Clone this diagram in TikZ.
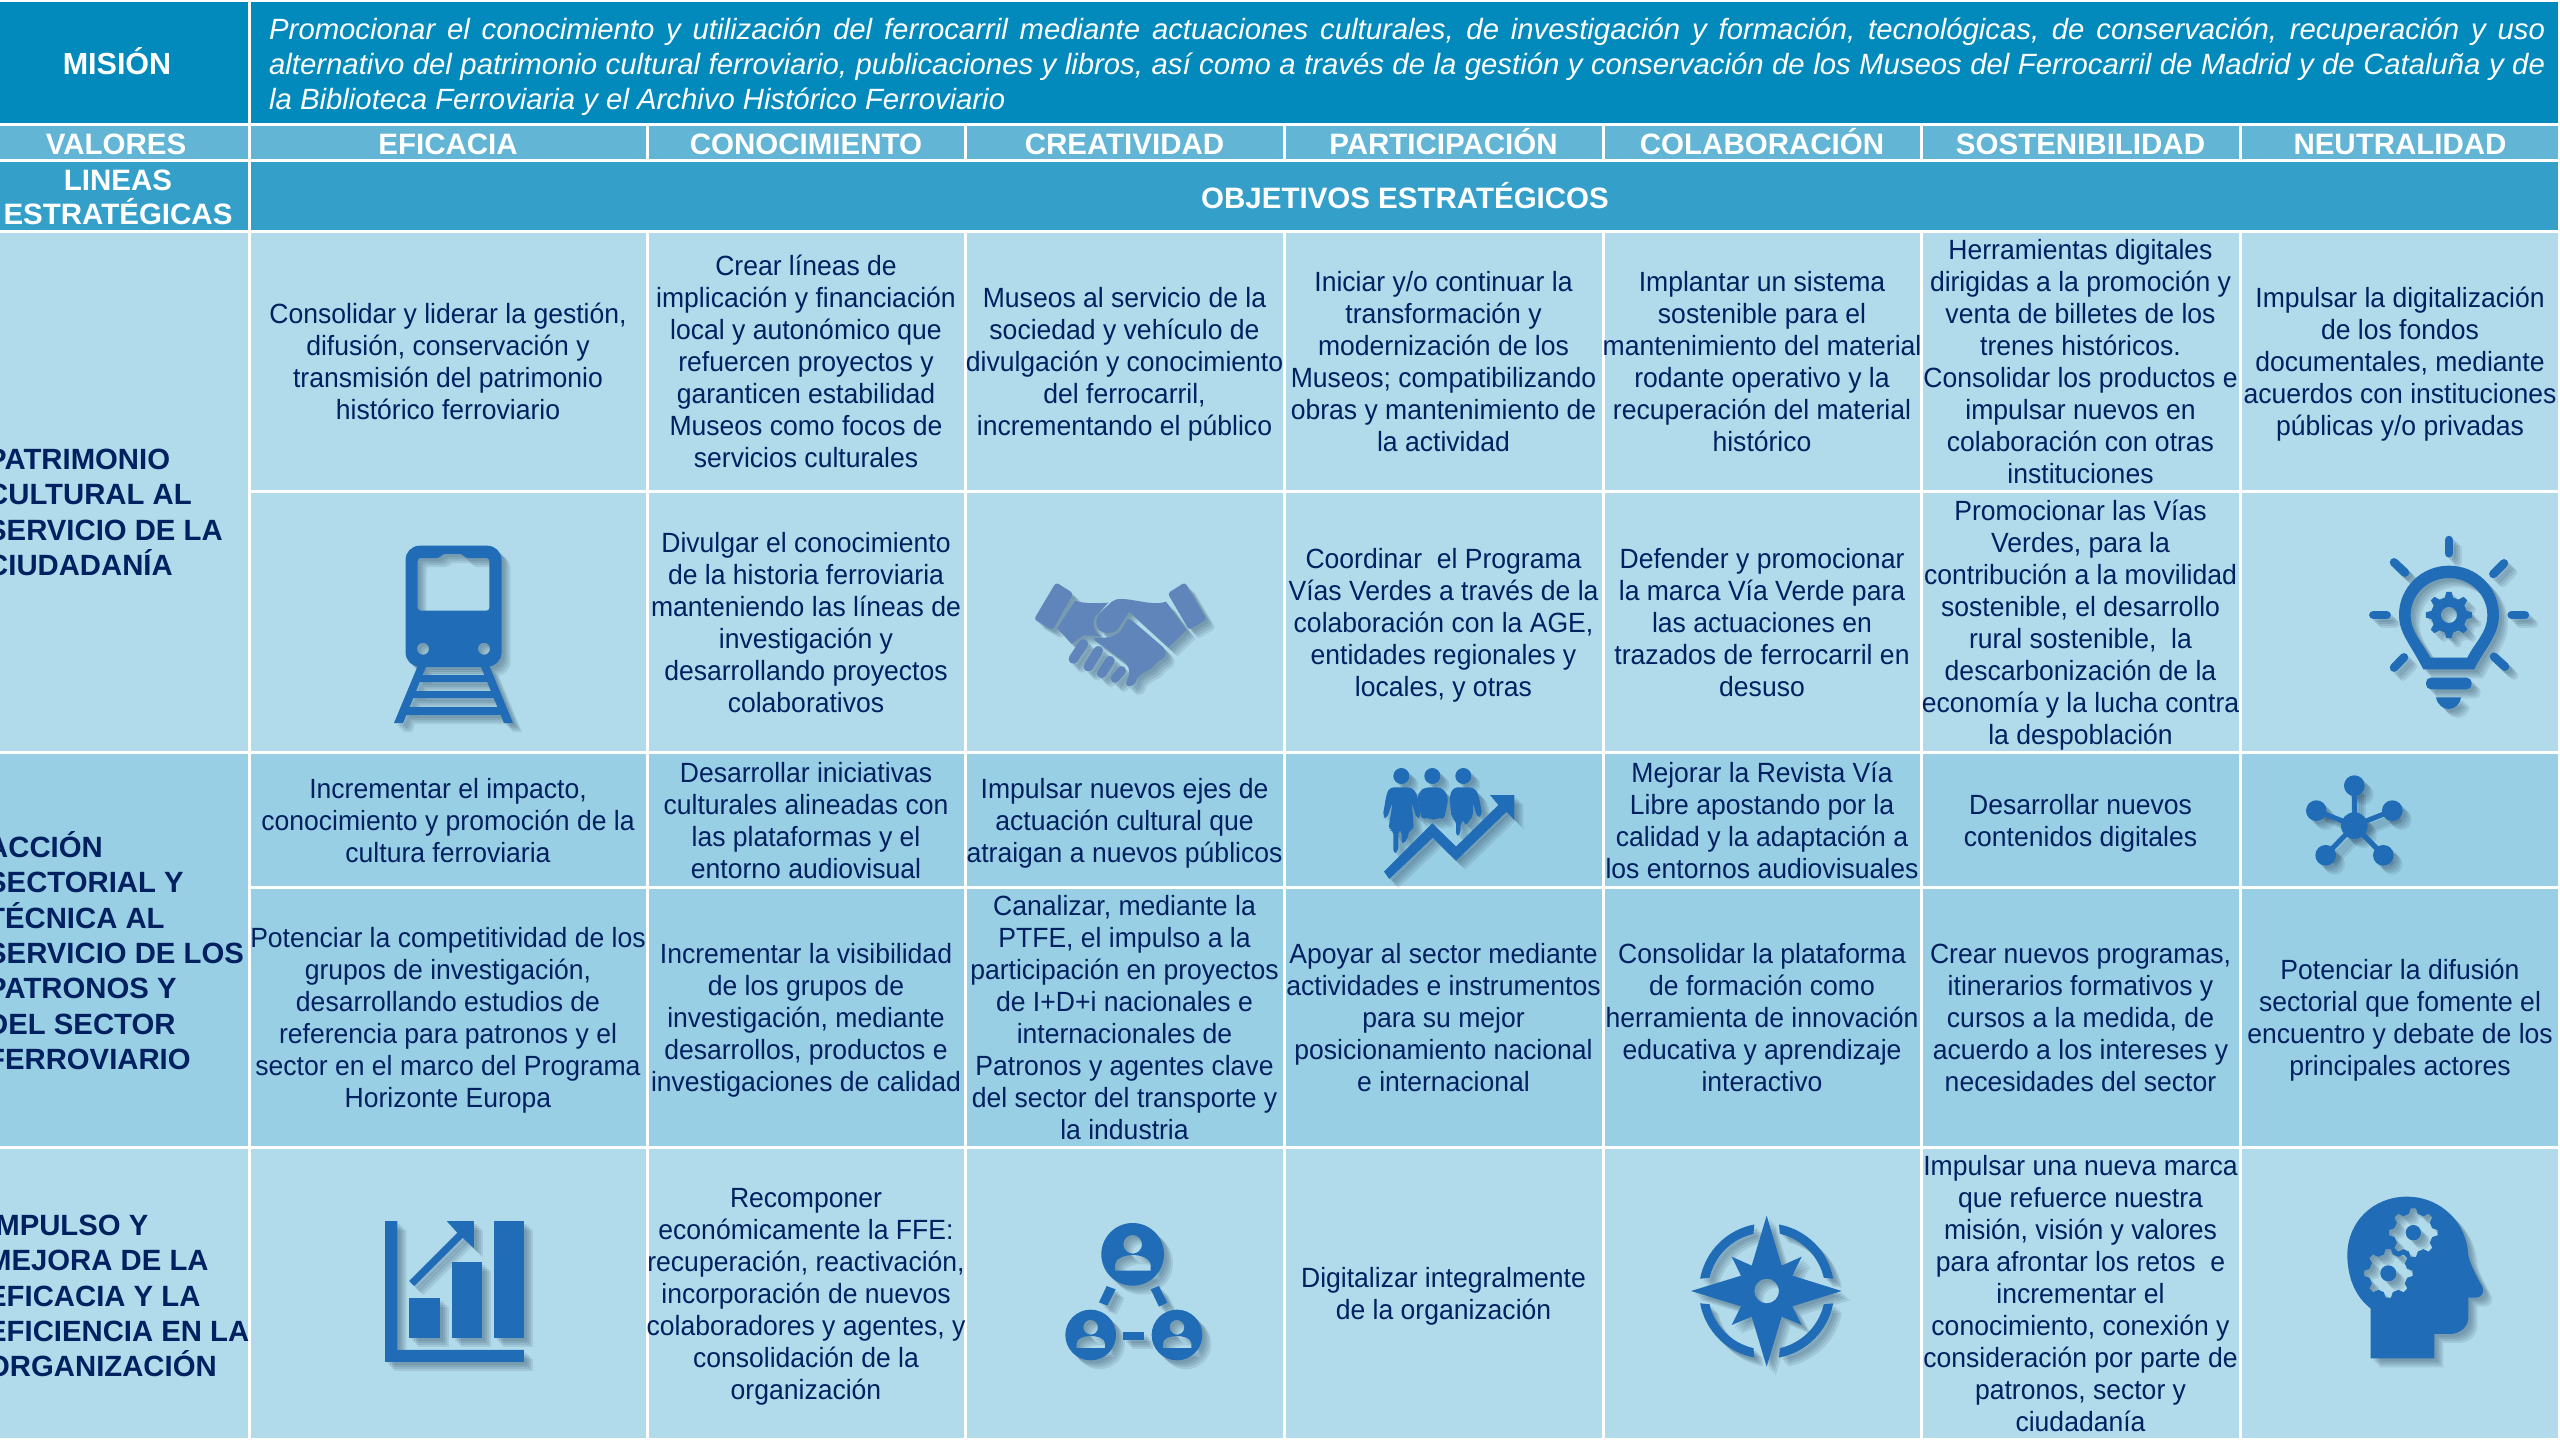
\documentclass[tikz,border=0pt]{standalone}
\usepackage{fontspec}
\setmainfont{Liberation Sans}
\newfontfamily\cellfont[FakeStretch=0.955]{Liberation Sans}
\definecolor{misionc}{HTML}{028ABD}
\definecolor{valorc}{HTML}{62B5D5}
\definecolor{lineac}{HTML}{34A0CA}
\definecolor{lightc}{HTML}{B1DBEA}
\definecolor{midc}{HTML}{99CFE4}
\definecolor{textc}{HTML}{002060}
\definecolor{iconcol}{HTML}{206CB7}
\definecolor{handc}{HTML}{5F85BA}
\definecolor{shadowc}{HTML}{1A3550}
\tikzset{
  cell/.style={inner sep=0pt,yshift=-5.5pt,align=center,text=textc,font=\cellfont\fontsize{27.8}{32}\selectfont,execute at begin node=\strut,execute at end node=\strut},
  head/.style={inner sep=0pt,align=center,text=white,font=\fontsize{29.5}{34}\selectfont\bfseries},
  valor/.style={head,anchor=base},
  linea/.style={inner sep=0pt,anchor=west,align=left,text=textc,font=\fontsize{29.3}{35.4}\selectfont\bfseries},
  grid/.style={draw=white,line width=3pt},
  ic/.style={fill=iconcol,draw=none},
  ir/.style={draw=iconcol,line cap=round}
}
\newcommand\shicon[4]{%
  \foreach \dd in {3,5,7,9}{%
    \begin{scope}[shift={({#1+\dd},{#2+\dd})},scale=#3,opacity=.11]
      \colorlet{iconcol}{shadowc}#4
    \end{scope}}%
  \begin{scope}[shift={(#1,#2)},scale=#3]#4\end{scope}}
\newcommand\gearP[5]{({#1+#3*cos(.86*360/#5)},{#2+#3*sin(.86*360/#5)})
  \foreach \gi in {1,...,#5}{
    -- ({#1+#3*cos((\gi+.14)*360/#5)},{#2+#3*sin((\gi+.14)*360/#5)})
    -- ({#1+#4*cos((\gi+.3)*360/#5)},{#2+#4*sin((\gi+.3)*360/#5)})
    -- ({#1+#4*cos((\gi+.7)*360/#5)},{#2+#4*sin((\gi+.7)*360/#5)})
    -- ({#1+#3*cos((\gi+.86)*360/#5)},{#2+#3*sin((\gi+.86)*360/#5)})
  } -- cycle}
\begin{document}
\begin{tikzpicture}[x=1pt,y=-1pt]
\useasboundingbox (0,0) rectangle (2560,1440);
\clip (0,0) rectangle (2560,1440);
% ---------- bands
\fill[misionc] (0,0) rectangle (2560,124);
\fill[valorc] (0,124) rectangle (2560,160);
\fill[lineac] (0,160) rectangle (2560,231);
\fill[lightc] (0,231) rectangle (2560,752);
\fill[midc] (0,752) rectangle (2560,1147);
\fill[lightc] (0,1147) rectangle (2560,1440);
% ---------- grid
\draw[grid] (0,0.5) -- (2560,0.5);
\draw[grid] (0,124) -- (2560,124);
\draw[grid] (0,160) -- (2560,160);
\draw[grid] (0,231) -- (2560,231);
\draw[grid] (249,491) -- (2560,491);
\draw[grid] (0,752) -- (2560,752);
\draw[grid] (249,887) -- (2560,887);
\draw[grid] (0,1147) -- (2560,1147);
\draw[grid] (0,1439.5) -- (2560,1439.5);
\draw[grid] (249,0) -- (249,1440);
\foreach \cx in {647,965,1284,1603,1921,2240}{
  \draw[grid] (\cx,124) -- (\cx,160);
  \draw[grid] (\cx,231) -- (\cx,1440);
}
\draw[grid] (2559.5,0) -- (2559.5,1440);
% ---------- header
\node[head,font=\fontsize{30.5}{36}\selectfont\bfseries] (mision) at (117,61) {MISIÓN};
\node[inner sep=0pt,anchor=west,text=white] (mtext) at (269,66.5) {\parbox{2276pt}{\fontsize{29.3}{35}\selectfont\itshape\emergencystretch=200pt\hbadness=10000
Promocionar el conocimiento y utilización del ferrocarril mediante actuaciones culturales, de investigación y formación, tecnológicas, de conservación, recuperación y uso\linebreak
alternativo del patrimonio cultural ferroviario, publicaciones y libros, así como a través de la gestión y conservación de los Museos del Ferrocarril de Madrid y de Cataluña y de\linebreak
la Biblioteca Ferroviaria y el Archivo Histórico Ferroviario}};
\node[valor] (valores) at (116,154) {VALORES};
\node[valor] (v1) at (448,154) {EFICACIA};
\node[valor] (v2) at (806,154) {CONOCIMIENTO};
\node[valor] (v3) at (1124.5,154) {CREATIVIDAD};
\node[valor] (v4) at (1443.5,154) {PARTICIPACIÓN};
\node[valor] (v5) at (1762,154) {COLABORACIÓN};
\node[valor] (v6) at (2080.5,154) {SOSTENIBILIDAD};
\node[valor] (v7) at (2400,154) {NEUTRALIDAD};
\node[head] (lineas) at (118,197) {LINEAS\\ESTRATÉGICAS};
\node[head] (objetivos) at (1405,196) {OBJETIVOS ESTRATÉGICOS};
% ---------- strategic lines
\node[linea] (l1) at (-13,512.5) {PATRIMONIO\\CULTURAL AL\\SERVICIO DE LA\\CIUDADANÍA};
\node[linea] (l2) at (-13,950.7) {ACCIÓN\\SECTORIAL Y\\TÉCNICA AL\\SERVICIO DE LOS\\PATRONOS Y\\DEL SECTOR\\FERROVIARIO};
\node[linea] (l3) at (-13,1296) {IMPULSO Y\\MEJORA DE LA\\EFICACIA Y LA\\EFICIENCIA EN LA\\ORGANIZACIÓN};
% ---------- row 1
\node[cell] (a1) at (448,361) {Consolidar y liderar la gestión,\\difusión, conservación y\\transmisión del patrimonio\\histórico ferroviario};
\node[cell] (a2) at (806,361) {Crear líneas de\\implicación y financiación\\local y autonómico que\\refuercen proyectos y\\garanticen estabilidad\\Museos como focos de\\servicios culturales};
\node[cell] (a3) at (1124.5,361) {Museos al servicio de la\\sociedad y vehículo de\\divulgación y conocimiento\\del ferrocarril,\\incrementando el público};
\node[cell] (a4) at (1443.5,361) {Iniciar y/o continuar la\\transformación y\\modernización de los\\Museos; compatibilizando\\obras y mantenimiento de\\la actividad};
\node[cell] (a5) at (1762,361) {Implantar un sistema\\sostenible para el\\mantenimiento del material\\rodante operativo y la\\recuperación del material\\histórico};
\node[cell] (a6) at (2080.5,361) {Herramientas digitales\\dirigidas a la promoción y\\venta de billetes de los\\trenes históricos.\\Consolidar los productos e\\impulsar nuevos en\\colaboración con otras\\instituciones};
\node[cell] (a7) at (2400,361) {Impulsar la digitalización\\de los fondos\\documentales, mediante\\acuerdos con instituciones\\públicas y/o privadas};
% ---------- row 2
\node[cell] (b2) at (806,621.5) {Divulgar el conocimiento\\de la historia ferroviaria\\manteniendo las líneas de\\investigación y\\desarrollando proyectos\\colaborativos};
\node[cell] (b4) at (1443.5,621.5) {Coordinar\ \ el Programa\\Vías Verdes a través de la\\colaboración con la AGE,\\entidades regionales y\\locales, y otras};
\node[cell] (b5) at (1762,621.5) {Defender y promocionar\\la marca Vía Verde para\\las actuaciones en\\trazados de ferrocarril en\\desuso};
\node[cell] (b6) at (2080.5,621.5) {Promocionar las Vías\\Verdes, para la\\contribución a la movilidad\\sostenible, el desarrollo\\rural sostenible,\ \ la\\descarbonización de la\\economía y la lucha contra\\la despoblación};
% ---------- row 3
\node[cell] (c1) at (448,819.5) {Incrementar el impacto,\\conocimiento y promoción de la\\cultura ferroviaria};
\node[cell] (c2) at (806,819.5) {Desarrollar iniciativas\\culturales alineadas con\\las plataformas y el\\entorno audiovisual};
\node[cell] (c3) at (1124.5,819.5) {Impulsar nuevos ejes de\\actuación cultural que\\atraigan a nuevos públicos};
\node[cell] (c5) at (1762,819.5) {Mejorar la Revista Vía\\Libre apostando por la\\calidad y la adaptación a\\los entornos audiovisuales};
\node[cell] (c6) at (2080.5,819.5) {Desarrollar nuevos\\contenidos digitales};
% ---------- row 4
\node[cell] (d1) at (448,1017) {Potenciar la competitividad de los\\grupos de investigación,\\desarrollando estudios de\\referencia para patronos y el\\sector en el marco del Programa\\Horizonte Europa};
\node[cell] (d2) at (806,1017) {Incrementar la visibilidad\\de los grupos de\\investigación, mediante\\desarrollos, productos e\\investigaciones de calidad};
\node[cell] (d3) at (1124.5,1017) {Canalizar, mediante la\\PTFE, el impulso a la\\participación en proyectos\\de I+D+i nacionales e\\internacionales de\\Patronos y agentes clave\\del sector del transporte y\\la industria};
\node[cell] (d4) at (1443.5,1017) {Apoyar al sector mediante\\actividades e instrumentos\\para su mejor\\posicionamiento nacional\\e internacional};
\node[cell] (d5) at (1762,1017) {Consolidar la plataforma\\de formación como\\herramienta de innovación\\educativa y aprendizaje\\interactivo};
\node[cell] (d6) at (2080.5,1017) {Crear nuevos programas,\\itinerarios formativos y\\cursos a la medida, de\\acuerdo a los intereses y\\necesidades del sector};
\node[cell] (d7) at (2400,1017) {Potenciar la difusión\\sectorial que fomente el\\encuentro y debate de los\\principales actores};
% ---------- row 5
\node[cell] (e2) at (806,1293) {Recomponer\\económicamente la FFE:\\recuperación, reactivación,\\incorporación de nuevos\\colaboradores y agentes, y\\consolidación de la\\organización};
\node[cell] (e4) at (1443.5,1293) {Digitalizar integralmente\\de la organización};
\node[cell] (e6) at (2080.5,1293) {Impulsar una nueva marca\\que refuerce nuestra\\misión, visión y valores\\para afrontar los retos\ \ e\\incrementar el\\conocimiento, conexión y\\consideración por parte de\\patronos, sector y\\ciudadanía};
% ---------- train
\shicon{0}{0}{1}{
  \fill[ic,even odd rule,rounded corners=14] (405.6,545.7) rectangle (501.5,666.7)
    [rounded corners=3] (417.7,558) -- (440,558) -- (442,554) -- (463,554) -- (465,558) -- (489.4,558) -- (489.4,610.7) -- (417.7,610.7) -- cycle
    [sharp corners] (423,648.7) circle[radius=6] (484,648.7) circle[radius=6];
  \fill[ic,even odd rule] (417.7,666) -- (489.4,666) -- (513,723) -- (504,723) -- (500.7,715) -- (406.3,715) -- (403,723) -- (394,723) -- cycle
    (426,667) -- (481,667) -- (484.3,675) -- (422.7,675) -- cycle
    (419.8,682) -- (487.2,682) -- (490.9,691) -- (416.1,691) -- cycle
    (413.3,698) -- (493.7,698) -- (497.4,707) -- (409.6,707) -- cycle;
}
% ---------- handshake
\begin{scope}
\colorlet{iconcol}{handc}
\shicon{1020}{560}{.3333}{
  \fill[ic,rounded corners=3pt] (108,67) -- (160,100) -- (98,210) -- (42,178) -- cycle;
  \fill[ic,rounded corners=3pt] (495,67) -- (443,100) -- (507,210) -- (560,178) -- cycle;
  \fill[ic] (165,122) .. controls (195,132) and (235,130) .. (265,128) -- (225,170) .. controls (215,190) and (222,222) .. (245,228) -- (190,226) -- (155,252) -- (112,205) -- cycle;
  \fill[ic] (290,118) .. controls (335,112) and (395,140) .. (438,125) -- (500,210) -- (445,262) -- (328,155) -- (295,205) .. controls (280,225) and (245,222) .. (233,205) .. controls (225,190) and (228,170) .. (240,160) -- (275,125) -- cycle;
  \fill[ic,rounded corners=4pt] (325,172) -- (437,268) -- (437,292) -- (410,305) -- (398,325) -- (375,335) -- (350,352) -- (347,375) -- (315,380) -- (330,335) -- (320,310) -- (285,285) -- (255,262) -- (215,235) -- (270,232) -- (300,218) -- cycle;
  \draw[ir,line width=9.5pt] (190,252) -- (160,297);
  \draw[ir,line width=9.5pt] (235,272) -- (205,320);
  \draw[ir,line width=9.5pt] (270,302) -- (245,340);
  \draw[ir,line width=9pt] (305,332) -- (285,355);
}
\end{scope}
% ---------- people and rising arrow
\shicon{1370}{755}{.3333}{
  \fill[ic] (94,63) circle[radius=24] (187,63) circle[radius=24] (280,63) circle[radius=24];
  \fill[ic,rounded corners=4pt] (60,97) -- (125,97) -- (140,115) -- (153,185) -- (140,192) -- (125,140) -- (132,225) -- (115,225) -- (115,250) -- (95,270) -- (95,225) -- (85,225) -- (85,290) -- (70,297) -- (70,225) -- (55,225) -- (68,140) -- (50,192) -- (38,185) -- (50,115) -- cycle;
  \fill[ic,rounded corners=4pt] (165,97) -- (212,97) -- (228,112) -- (235,130) -- (222,195) -- (210,185) -- (190,198) -- (170,185) -- (155,195) -- (142,125) -- (150,108) -- cycle;
  \fill[ic,rounded corners=4pt] (250,97) -- (310,97) -- (325,115) -- (337,180) -- (323,190) -- (308,140) -- (310,180) -- (300,195) -- (285,215) -- (285,195) -- (272,198) -- (272,237) -- (258,245) -- (258,195) -- (245,190) -- (238,125) -- cycle;
  \fill[ic] (42,350) -- (187,205) -- (258,275) -- (385,150) -- (360,120) -- (433,120) -- (433,195) -- (410,170) -- (258,317) -- (188,248) -- (58,372) -- cycle;
}
% ---------- bulb
\shicon{2250}{500}{.3333}{
  \fill[ic,even odd rule] (597,197) .. controls (515,197) and (447,262) .. (447,345) .. controls (447,400) and (480,430) .. (520,508) -- (673,508) .. controls (700,450) and (747,410) .. (747,345) .. controls (747,262) and (680,197) .. (597,197) -- cycle
    (597,234) .. controls (533,234) and (482,285) .. (482,345) .. controls (482,395) and (515,425) .. (541,473) -- (652,473) .. controls (672,430) and (712,400) .. (712,345) .. controls (712,285) and (661,234) .. (597,234) -- cycle;
  \fill[ic,even odd rule] \gearP{597}{345}{70}{54}{8} (597,345) circle[radius=24];
  \draw[ir,line width=8.5pt] (597,120) -- (597,160);
  \draw[ir,line width=8.5pt] (370,345) -- (410,345);
  \draw[ir,line width=8.5pt] (785,345) -- (825,345);
  \draw[ir,line width=8.5pt] (432,187) -- (465,218);
  \draw[ir,line width=8.5pt] (762,190) -- (730,222);
  \draw[ir,line width=8.5pt] (432,503) -- (462,472);
  \draw[ir,line width=8.5pt] (765,500) -- (732,470);
  \fill[ic,rounded corners=5pt] (528,533) rectangle (665,568);
  \fill[ic] (558,592) -- (633,592) .. controls (630,615) and (612,627) .. (596,627) .. controls (580,627) and (562,615) .. (558,592) -- cycle;
}
% ---------- network
\shicon{2250}{500}{.3333}{
  \draw[iconcol,line width=5pt] (313,857) -- (313,977) (199,932) -- (313,977) (427,932) -- (313,977) (227,1066) -- (313,977) (400,1066) -- (313,977);
  \fill[ic] (313,977) circle[radius=40] (313,857) circle[radius=31] (199,932) circle[radius=31] (427,932) circle[radius=31] (227,1066) circle[radius=31] (400,1066) circle[radius=31];
}
% ---------- bar chart
\shicon{370}{1200}{.3333}{
  \fill[ic] (45,63) -- (82,63) -- (82,450) -- (462,450) -- (462,486) -- (45,486) -- cycle;
  \fill[ic] (118,293) rectangle (210,413);
  \fill[ic] (245,185) rectangle (335,413);
  \fill[ic] (372,63) rectangle (462,413);
  \fill[ic] (117,243) -- (262,98) -- (230,63) -- (312,63) -- (312,145) -- (278,113) -- (133,258) -- cycle;
}
% ---------- group of three persons
\shicon{1050}{1210}{.3333}{
  \fill[ic,even odd rule] (248,133) circle[radius=94] (248,103) circle[radius=28]
    (195,182) -- (195,165) .. controls (195,145) and (225,135) .. (248,135) .. controls (271,135) and (302,145) .. (302,165) -- (302,182) -- cycle;
  \fill[ic,even odd rule] (122,375) circle[radius=76] (122,352) circle[radius=22]
    (80,414) -- (80,400) .. controls (80,385) and (102,378) .. (122,378) .. controls (142,378) and (165,385) .. (165,400) -- (165,414) -- cycle;
  \fill[ic,even odd rule] (381,375) circle[radius=76] (381,352) circle[radius=22]
    (339,414) -- (339,400) .. controls (339,385) and (361,378) .. (381,378) .. controls (401,378) and (424,385) .. (424,400) -- (424,414) -- cycle;
  \fill[ic] (170,228) -- (197,238) -- (172,287) -- (147,277) -- cycle;
  \fill[ic] (302,238) -- (327,228) -- (352,278) -- (327,290) -- cycle;
  \fill[ic] (220,365) rectangle (282,390);
}
% ---------- compass
\shicon{1680}{1205}{.3333}{
  \foreach \rr in {0,90,180,270}{
    \begin{scope}[shift={(260,258)},rotate=\rr]
      \fill[ic] (10.5:203) arc[start angle=10.5,end angle=79.5,radius=203] -- (77:176) arc[start angle=77,end angle=13,radius=176] -- cycle;
    \end{scope}}
  \fill[ic,even odd rule] (260,32) -- (305,182) -- (365,155) -- (337,212) -- (485,258) -- (337,304) -- (365,360) -- (305,335) -- (260,485) -- (215,335) -- (155,360) -- (183,304) -- (33,258) -- (183,212) -- (155,155) -- (215,182) -- cycle (260,258) circle[radius=37];
}
% ---------- head with gears
\shicon{2335}{1190}{.3333}{
  \fill[ic,even odd rule] (107,505) -- (107,355) .. controls (60,320) and (37,260) .. (37,195) .. controls (37,95) and (115,20) .. (215,20) .. controls (320,20) and (395,100) .. (400,195) .. controls (402,215) and (425,260) .. (442,290) .. controls (450,305) and (440,322) .. (425,323) -- (400,323) -- (400,385) .. controls (398,415) and (370,432) .. (345,432) -- (298,432) -- (298,505) -- cycle
    \gearP{235}{128}{73}{58}{8} (235,128) circle[radius=23]
    \gearP{160}{250}{73}{58}{8} (160,250) circle[radius=24];
}
\end{tikzpicture}
\end{document}
